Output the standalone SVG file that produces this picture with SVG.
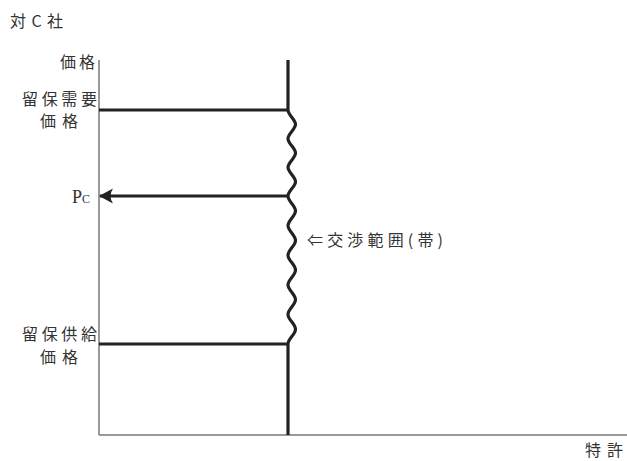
<svg xmlns="http://www.w3.org/2000/svg" width="627" height="461" viewBox="0 0 627 461">
<style>
.t{font-family:"Noto Sans CJK JP","Noto Sans",sans-serif;fill:#333;font-size:16px}
.ax{stroke:#777;stroke-width:1.5;fill:none}
.th{stroke:#222;stroke-width:3.2;fill:none}
.s{font-family:"Liberation Serif",serif;fill:#333}
</style>
<defs>
<marker id="ah" viewBox="0 0 14 16" refX="13" refY="8" markerWidth="14" markerHeight="16" markerUnits="userSpaceOnUse" orient="auto">
<path d="M14,8 L0,0.5 Q5,8 0,15.5 Z" fill="#222"/>
</marker>
</defs>
<rect width="627" height="461" fill="#fff"/>
<g id="title"><text class="t" x="10" y="27" font-size="17" textLength="53" lengthAdjust="spacing">対C社</text></g>
<g id="axes">
<line class="ax" x1="99" y1="60" x2="99" y2="435"/>
<line class="ax" x1="99" y1="435" x2="627" y2="435"/>
</g>
<g id="ylabel"><text class="t" x="60" y="68" textLength="35" lengthAdjust="spacing">価格</text></g>
<g id="xlabel"><text class="t" x="585" y="456" textLength="38" lengthAdjust="spacing">特許</text></g>
<g id="demand">
<text class="t" x="22" y="105" textLength="75" lengthAdjust="spacing">留保需要</text>
<text class="t" x="40" y="127" textLength="38" lengthAdjust="spacing">価格</text>
</g>
<g id="supply">
<text class="t" x="22" y="340" textLength="75" lengthAdjust="spacing">留保供給</text>
<text class="t" x="40" y="363" textLength="38" lengthAdjust="spacing">価格</text>
</g>
<g id="pc"><text class="s" x="72" y="203" font-size="18">P<tspan font-size="12">C</tspan></text></g>
<g id="band"><text class="t" x="307" y="246" font-size="17" textLength="136" lengthAdjust="spacing">⇐交渉範囲(帯)</text></g>
<g id="connectors">
<line class="th" x1="288" y1="60" x2="288" y2="110"/>
<path class="th" d="M288,110 C288,115 295.5,119.3 295.5,124.3 C295.5,129.3 288,133.7 288,138.7 C288,143.7 295.5,148 295.5,153 C295.5,158 288,162.3 288,167.3 C288,172.3 295.5,176.7 295.5,181.7 C295.5,186.7 288,191 288,196 C288,201.2 295.5,205.6 295.5,210.8 C295.5,216 288,220.4 288,225.6 C288,230.8 295.5,235.2 295.5,240.4 C295.5,245.6 288,250 288,255.2 C288,260.4 295.5,264.8 295.5,270 C295.5,275.2 288,279.6 288,284.8 C288,290 295.5,294.4 295.5,299.6 C295.5,304.8 288,309.2 288,314.4 C288,319.6 295.5,324 295.5,329.2 C295.5,334.4 288,338.8 288,344"/>
<line class="th" x1="288" y1="344" x2="288" y2="435"/>
<line class="th" x1="99" y1="110" x2="288" y2="110"/>
<line class="th" x1="99" y1="344" x2="288" y2="344"/>
<line class="th" x1="289" y1="196" x2="100" y2="196" marker-end="url(#ah)"/>
</g>
</svg>
